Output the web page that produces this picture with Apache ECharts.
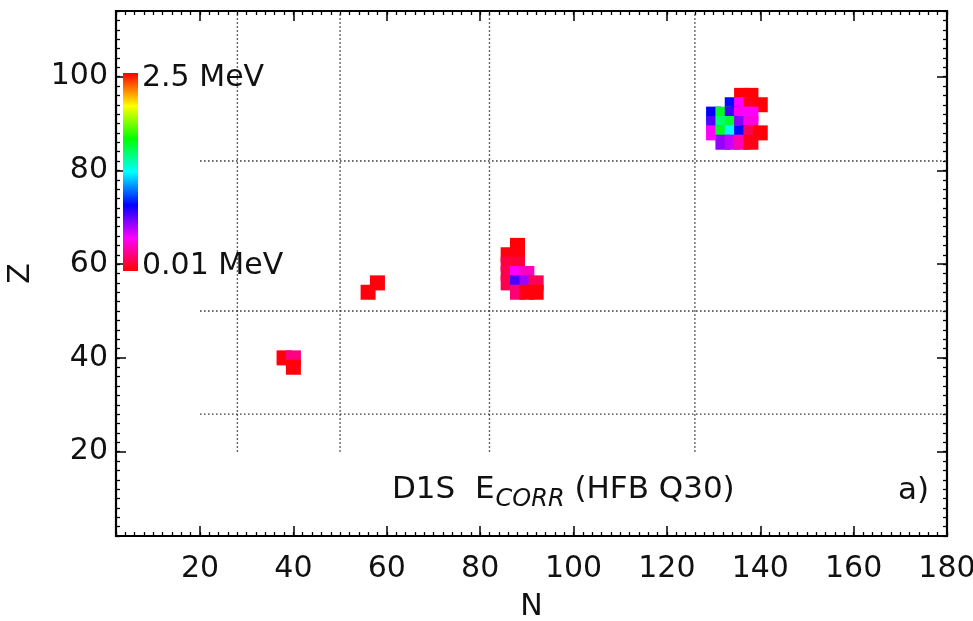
<!DOCTYPE html>
<html>
<head>
<meta charset="utf-8">
<script src="https://cdn.jsdelivr.net/npm/echarts@6/dist/echarts.min.js"></script>
<style>
  html, body { margin: 0; padding: 0; background: #fff; }
  #chart { width: 973px; height: 621px; }
</style>
</head>
<body>
<div id="chart"></div>
<script>
// Axis ranges and labelled ticks
const nRange = [2, 180];
const zRange = [2, 114];
const nTickLabels = [20, 40, 60, 80, 100, 120, 140, 160, 180];
const zTickLabels = [20, 40, 60, 80, 100];

// Magic numbers drawn as dotted guide lines
const magicN = [28, 50, 82, 126];
const magicZ = [28, 50, 82];

// Even-even nuclei: neutron number, proton number, correlation energy (MeV)
const nucN = [38, 40, 40,
              58, 56,
              88, 86, 88, 86, 88, 86, 88, 90, 86, 88, 90, 92, 88, 90, 92,
              136, 138, 134, 136, 138, 140, 130, 132, 134, 136, 138,
              130, 132, 134, 136, 138, 130, 132, 134, 136, 138, 140,
              132, 134, 136, 138];
const nucZ = [40, 40, 38,
              56, 54,
              64, 62, 62, 60, 60, 58, 58, 58, 56, 56, 56, 56, 54, 54, 54,
              96, 96, 94, 94, 94, 94, 92, 92, 92, 92, 92,
              90, 90, 90, 90, 90, 88, 88, 88, 88, 88, 88,
              86, 86, 86, 86];
const ecorr = [0.03, 0.22, 0.03,
               0.03, 0.03,
               0.02, 0.03, 0.03, 0.12, 0.1, 0.14, 0.42, 0.32, 0.14, 0.72, 0.58, 0.15, 0.2, 0.04, 0.03,
               0.02, 0.02, 0.86, 0.42, 0.04, 0.02, 0.84, 1.62, 0.74, 0.4, 0.42,
               0.7, 1.5, 1.6, 0.62, 0.38, 0.42, 1.62, 1.25, 0.86, 0.15, 0.02,
               0.6, 0.52, 0.3, 0.05];

// Energy scale end points and colour ramp (low to high)
const eMin = 0.01, eMax = 2.5;
const ramp = ['#ff0000', '#ff00ff', '#0000ff', '#00ffff', '#00ff00', '#ffff00', '#ff0000'];
const scaleLabels = ['2.5 MeV', '0.01 MeV'];

const points = nucN.map((n, i) => [n, nucZ[i], ecorr[i]]);

const FONT = '"DejaVu Sans", Verdana, sans-serif';
const INK = '#111';

function axisSet(dim, position, range, labels, showLabels, extra) {
  const minor = {
    type: 'value', position: position, min: range[0], max: range[1], interval: 2,
    axisLine: { show: false }, splitLine: { show: false },
    axisTick: { show: true, inside: true, length: 4, lineStyle: { color: '#000', width: 1.3 } },
    axisLabel: { show: false }
  };
  const major = Object.assign({
    type: 'value', position: position, min: range[0], max: range[1],
    axisLine: { show: false }, splitLine: { show: false },
    axisTick: { show: true, inside: true, length: 10, customValues: labels, lineStyle: { color: '#000', width: 1.5 } },
    axisLabel: { show: showLabels, customValues: labels, color: INK, fontSize: 30, fontFamily: FONT,
                 margin: dim === 'x' ? 18 : 8 }
  }, extra || {});
  return [minor, major];
}

const xAxes = [].concat(
  axisSet('x', 'bottom', nRange, nTickLabels, true, {
    name: 'N', nameLocation: 'middle', nameGap: 56,
    nameTextStyle: { fontSize: 30, color: INK, fontFamily: FONT }
  }),
  axisSet('x', 'top', nRange, nTickLabels, false)
);
const yAxes = [].concat(
  axisSet('y', 'left', zRange, zTickLabels, true, {
    name: 'Z', nameLocation: 'middle', nameGap: 80, nameRotate: 90,
    nameTextStyle: { fontSize: 30, color: INK, fontFamily: FONT }
  }),
  axisSet('y', 'right', zRange, zTickLabels, false)
);

const guideStyle = { color: '#333', width: 1.4, type: [1.5, 2.5] };
const guides = [];
magicN.forEach(n => guides.push({
  type: 'line', data: [[n, 20], [n, zRange[1]]], symbol: 'none', silent: true,
  lineStyle: guideStyle, z: 1
}));
magicZ.forEach(z => guides.push({
  type: 'line', data: [[20, z], [nRange[1], z]], symbol: 'none', silent: true,
  lineStyle: guideStyle, z: 1
}));

const chart = echarts.init(document.getElementById('chart'), null, { renderer: 'canvas' });
chart.setOption({
  animation: false,
  backgroundColor: '#fff',
  grid: { left: 116, right: 26, top: 11, bottom: 85, containLabel: false, outerBoundsMode: 'none',
          show: true, borderColor: '#000', borderWidth: 2.2, backgroundColor: 'transparent' },
  xAxis: xAxes,
  yAxis: yAxes,
  visualMap: {
    show: false, type: 'continuous', min: eMin, max: eMax, dimension: 2, seriesIndex: 0,
    inRange: { color: ramp }
  },
  series: [{
    type: 'scatter', data: points, symbol: 'rect', symbolSize: 15, z: 3,
    itemStyle: { opacity: 1 }
  }].concat(guides),
  graphic: [
    {
      type: 'rect', left: 123, top: 73, z: 10,
      shape: { width: 15, height: 198 },
      style: {
        fill: new echarts.graphic.LinearGradient(0, 0, 0, 1,
          ramp.slice().reverse().map((c, i, a) => ({ offset: i / (a.length - 1), color: c })))
      }
    },
    { type: 'text', left: 142, top: 63, z: 10,
      style: { text: scaleLabels[0], fontSize: 30, fill: INK, fontFamily: FONT } },
    { type: 'text', left: 142, top: 251, z: 10,
      style: { text: scaleLabels[1], fontSize: 30, fill: INK, fontFamily: FONT } },
    { type: 'text', left: 392, top: 474, z: 10,
      style: {
        text: '{n|D1S  E}{s|CORR}{n| (HFB Q30)}',
        fontFamily: FONT,
        rich: {
          n: { fontSize: 31, fill: INK, fontFamily: FONT, lineHeight: 34, verticalAlign: 'top' },
          s: { fontSize: 24, fill: INK, fontFamily: FONT, fontStyle: 'italic', lineHeight: 24,
               padding: [14, 0, 0, 1], verticalAlign: 'top' }
        }
      } },
    { type: 'text', left: 898, top: 475, z: 10,
      style: { text: 'a)', fontSize: 31, fill: INK, fontFamily: FONT } }
  ]
});
</script>
</body>
</html>
